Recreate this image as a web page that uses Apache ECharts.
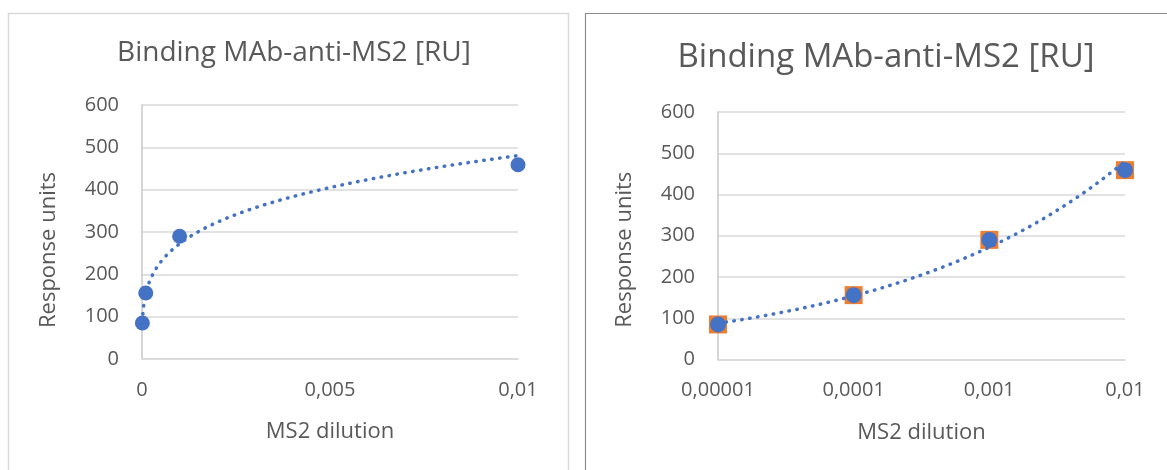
<!DOCTYPE html>
<html><head><meta charset="utf-8">
<script src="https://cdn.jsdelivr.net/npm/echarts@6/dist/echarts.min.js"></script>
<style>html,body{margin:0;padding:0;background:#fff}#c{width:1167px;height:470px}</style>
</head><body><div id="c"></div>
<script>
// ---- data ----
const titleText = 'Binding MAb-anti-MS2 [RU]';
const xAxisName = 'MS2 dilution';
const yAxisName = 'Response units';
const dilution = [0.00001, 0.0001, 0.001, 0.01];
const responseUnits = [85, 156, 290, 459];
const yTickLabels = ['0', '100', '200', '300', '400', '500', '600'];
const leftXTickLabels = ['0', '0,005', '0,01'];
const rightXTickLabels = ['0,00001', '0,0001', '0,001', '0,01'];

// Power trendline (Excel "Power" trendline): least squares fit of ln(y) on ln(x)
function powerFit(xs, ys) {
  const lx = xs.map(Math.log), ly = ys.map(Math.log);
  const n = xs.length;
  const mx = lx.reduce((a, b) => a + b, 0) / n, my = ly.reduce((a, b) => a + b, 0) / n;
  let sxy = 0, sxx = 0;
  for (let i = 0; i < n; i++) { sxy += (lx[i] - mx) * (ly[i] - my); sxx += (lx[i] - mx) ** 2; }
  const b = sxy / sxx, a = Math.exp(my - b * mx);
  return x => a * Math.pow(x, b);
}
const fit = powerFit(dilution, responseUnits);
const lo = Math.log(dilution[0]), hi = Math.log(dilution[dilution.length - 1]);
const trend = [];
for (let i = 0; i <= 200; i++) { const x = Math.exp(lo + (hi - lo) * i / 200); trend.push([x, fit(x)]); }
const points = dilution.map((x, i) => [x, responseUnits[i]]);

const FONT = "'Open Sans', sans-serif";
const TXT = '#595959';
const BLUE = '#4472C4', ORANGE = '#ED7D31';
const dotted = { color: BLUE, width: 3.5, type: [0.5, 7.5], cap: 'round' };

function yAxis(gridIndex, nameShift) {
  return {
    type: 'value', gridIndex, min: 0, max: 600, interval: 100,
    name: yAxisName, nameLocation: 'middle', nameGap: 82,
    nameTextStyle: { fontFamily: FONT, fontSize: 22, color: TXT, padding: [0, nameShift, 0, 0] },
    axisLine: { show: true, lineStyle: { color: '#c8c8c8', width: 1.5 } },
    axisTick: { show: false },
    axisLabel: { fontFamily: FONT, fontSize: 20, color: TXT, margin: 23, formatter: v => yTickLabels[Math.round(v / 100)] },
    splitLine: { lineStyle: { color: '#d9d9d9', width: 1.5 } }
  };
}

const chart = echarts.init(document.getElementById('c'));
chart.setOption({
  animation: false,
  backgroundColor: '#fff',
  graphic: [
    { type: 'rect', shape: { x: 8.5, y: 13.5, width: 560, height: 520 }, style: { fill: 'none', stroke: '#d9d9d9', lineWidth: 1.5 }, z: -1 },
    { type: 'rect', shape: { x: 585.5, y: 13.5, width: 620, height: 520 }, style: { fill: 'none', stroke: '#8c8c8c', lineWidth: 1.2 }, z: -1 }
  ],
  title: [
    { text: titleText, left: 289, top: 34, textAlign: 'center', textStyle: { fontFamily: FONT, fontSize: 28, fontWeight: 'normal', color: TXT } },
    { text: titleText, left: 881, top: 36, textAlign: 'center', textStyle: { fontFamily: FONT, fontSize: 33, fontWeight: 'normal', color: TXT } }
  ],
  grid: [
    { left: 142, top: 105, width: 376, height: 254 },
    { left: 718, top: 112, width: 407, height: 247.5 }
  ],
  xAxis: [
    {
      type: 'value', gridIndex: 0, min: 0, max: 0.01, interval: 0.005,
      name: xAxisName, nameLocation: 'middle', nameGap: 62,
      nameTextStyle: { fontFamily: FONT, fontSize: 22, color: TXT },
      axisLine: { show: true, lineStyle: { color: '#d9d9d9', width: 1.5 } },
      axisTick: { show: false },
      axisLabel: { fontFamily: FONT, fontSize: 20, color: TXT, margin: 21, formatter: v => leftXTickLabels[Math.round(v / 0.005)] },
      splitLine: { show: false }
    },
    {
      type: 'log', logBase: 10, gridIndex: 1, min: 0.00001, max: 0.01,
      name: xAxisName, nameLocation: 'middle', nameGap: 62,
      nameTextStyle: { fontFamily: FONT, fontSize: 22, color: TXT },
      axisLine: { show: true, lineStyle: { color: '#d9d9d9', width: 1.5 } },
      axisTick: { show: false },
      axisLabel: { fontFamily: FONT, fontSize: 20, color: TXT, margin: 21, formatter: v => rightXTickLabels[Math.round(Math.log10(v)) + 5] },
      splitLine: { show: false }
    }
  ],
  yAxis: [yAxis(0, 36), yAxis(1, 28)],
  series: [
    { type: 'scatter', xAxisIndex: 0, yAxisIndex: 0, data: points, symbol: 'circle', symbolSize: 15, itemStyle: { color: BLUE, opacity: 1 }, z: 2 },
    { type: 'line', xAxisIndex: 0, yAxisIndex: 0, data: trend, showSymbol: false, symbol: 'none', lineStyle: dotted, z: 3, silent: true },
    { type: 'scatter', xAxisIndex: 1, yAxisIndex: 1, data: points, symbol: 'rect', symbolSize: 18, itemStyle: { color: ORANGE, opacity: 1 }, z: 1 },
    { type: 'scatter', xAxisIndex: 1, yAxisIndex: 1, data: points, symbol: 'circle', symbolSize: 16, itemStyle: { color: BLUE, opacity: 1 }, z: 2 },
    { type: 'line', xAxisIndex: 1, yAxisIndex: 1, data: trend, showSymbol: false, symbol: 'none', lineStyle: dotted, z: 3, silent: true }
  ]
});
</script>
</body></html>
